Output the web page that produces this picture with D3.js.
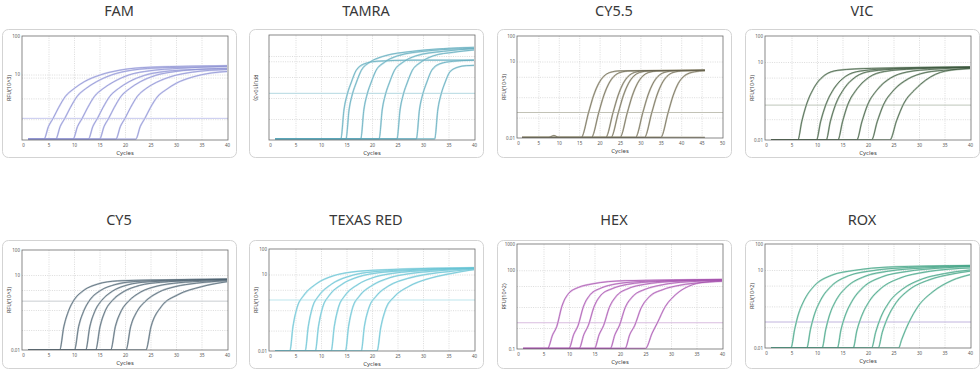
<!DOCTYPE html>
<html>
<head>
<meta charset="utf-8">
<script src="https://cdn.jsdelivr.net/npm/d3@7"></script>
<style>
  body { margin: 0; background: #fff; }
  svg text { font-family: "Noto Sans", "DejaVu Sans", sans-serif; }
</style>
</head>
<body>
<svg id="chart" width="980" height="370"></svg>
<script>
// panels, reading order
var panelNames = ["FAM", "TAMRA", "CY5.5", "VIC", "CY5", "TEXAS RED", "HEX", "ROX"];
var yTitles = ["RFU(10^3)", "RFU(10^3)", "RFU(10^3)", "RFU(10^3)", "RFU(10^3)", "RFU(10^3)", "RFU(10^2)", "RFU(10^2)"];
var xMax = [40, 40, 50, 40, 40, 40, 40, 40];
var yDomains = [[0.2, 100], [0.01, 100], [0.01, 100], [0.01, 100], [0.01, 100], [0.01, 100], [0.1, 1000], [0.01, 100]];
var yTicks = [[100, 10], [100, 10, 0.01], [100, 10, 0.01], [100, 10, 0.01], [100, 10, 0.01], [100, 10, 0.01], [1000, 100, 0.1], [100, 10, 0.01]];
var showYLabels = [true, false, true, true, true, true, true, true];
var thresholds = [0.73, 0.6, 0.1, 0.22, 0.9, 1.0, 1.0, 0.1];

// amplification curves, [cycle, RFU]
var famCurves = [
  [[1,.21],[4.1,.21],[5,.45],[5.9,.73],[7,1.4],[8.3,2.7],[10,4.3],[12,6.5],[15.2,9.8],[19,13],[25,15.5],[40,17]],
  [[1,.21],[6.4,.21],[7.3,.45],[8.2,.73],[9.3,1.4],[10.6,2.7],[12.3,4.3],[14.4,6.5],[17.4,9.8],[21.4,13],[27.4,15],[40,16]],
  [[1,.21],[9.8,.21],[10.7,.45],[11.6,.73],[12.7,1.4],[14,2.7],[15.7,4.3],[17.8,6.5],[20.8,9.8],[24.8,12.5],[30.8,14.5],[40,16.5]],
  [[1,.21],[12.8,.21],[13.7,.45],[14.6,.73],[15.7,1.4],[17,2.7],[18.7,4.3],[20.8,6.5],[23.8,9.5],[27.8,12],[33.8,13.5],[40,14]],
  [[1,.21],[15,.21],[15.9,.45],[16.8,.73],[17.9,1.4],[19.2,2.7],[20.9,4.3],[23,6.5],[26,9.5],[30,12],[36,14],[40,14.5]],
  [[1,.21],[18.2,.21],[19.1,.45],[20,.73],[21.1,1.4],[22.4,2.7],[24.1,4.3],[26.2,6.3],[29.2,9],[33.2,11.5],[40,13.5]],
  [[1,.21],[22.1,.21],[23,.45],[23.9,.73],[25,1.4],[26.3,2.6],[28,4],[30.1,6],[33.1,8.5],[37,11],[40,12]]
];
var tamraCurves = [
  [[1,.011],[13.9,.011],[14.5,.14],[15.2,.6],[15.9,1.5],[16.9,4.5],[18.5,8],[21,10],[28,11],[40,11]],
  [[1,.011],[14.9,.011],[15.5,.14],[16.2,.6],[16.9,1.5],[17.9,4.5],[19.5,9],[22,15],[28,24],[40,34]],
  [[1,.011],[17.8,.011],[18.4,.14],[19.1,.6],[19.8,1.5],[20.8,4.5],[22.4,9],[25,16],[31,25],[40,31]],
  [[1,.011],[21.4,.011],[22,.14],[22.7,.6],[23.4,1.5],[24.4,4.5],[26,9],[28.6,16],[34,24],[40,30]],
  [[1,.011],[24.9,.011],[25.5,.14],[26.2,.6],[26.9,1.5],[27.9,4.5],[29.5,9],[32,16],[36,22],[40,27]],
  [[1,.011],[28.7,.011],[29.3,.14],[30,.6],[30.7,1.5],[31.7,4.5],[33.3,8],[36,10],[40,11]],
  [[1,.011],[32.3,.011],[32.9,.14],[33.6,.6],[34.3,1.5],[35.3,4],[36.9,6],[38.5,6.8],[40,7]]
];
var cy55Curves = [
  [[1,.0105],[7.5,.0105],[8.8,.0125],[10,.0106],[45.8,.0105]],
  [[1,.0105],[15.5,.0105],[17.3,.1],[18.5,.45],[19.8,1.4],[21,2.6],[22.5,3.7],[25,4.3],[45.8,4.5]],
  [[1,.0105],[18,.0105],[19.8,.1],[21,.45],[22.3,1.4],[23.5,2.6],[25,3.7],[27.5,4.3],[45.8,4.5]],
  [[1,.0105],[21.5,.0105],[23.3,.1],[24.5,.45],[25.8,1.4],[27,2.6],[28.5,3.7],[31,4.3],[45.8,4.5]],
  [[1,.0105],[22.8,.0105],[24.6,.1],[25.8,.45],[27.1,1.4],[28.3,2.6],[29.8,3.7],[32.3,4.3],[45.8,4.5]],
  [[1,.0105],[25,.0105],[26.8,.1],[28,.45],[29.3,1.4],[30.5,2.6],[32,3.7],[34.5,4.3],[45.8,4.5]],
  [[1,.0105],[28.8,.0105],[30.6,.1],[31.8,.45],[33.1,1.4],[34.3,2.6],[35.8,3.7],[38.3,4.3],[45.8,4.5]],
  [[1,.0105],[31,.0105],[32.8,.1],[34,.45],[35.3,1.4],[36.5,2.6],[38,3.7],[40.5,4.3],[45.8,4.5]],
  [[1,.0105],[35,.0105],[36.8,.1],[38,.45],[39.3,1.4],[40.5,2.5],[42,3.5],[44.5,4.2],[45.8,4.4]]
];
var vicCurves = [
  [[1,.01],[6.25,.01],[7,.05],[7.9,.22],[9.5,1.1],[11.5,3.1],[14.1,4.8],[20.7,5.7],[40,6.5]],
  [[1,.01],[9.9,.01],[10.7,.05],[11.7,.22],[13.4,1],[15.6,2.8],[18.5,4.5],[25,5.6],[40,6.4]],
  [[1,.01],[11.8,.01],[12.6,.05],[13.6,.22],[15.4,1],[17.6,2.7],[20.5,4.4],[27,5.5],[40,6.3]],
  [[1,.01],[14.1,.01],[15,.05],[16,.22],[17.9,.95],[20.2,2.6],[23.2,4.3],[29,5.4],[40,6.2]],
  [[1,.01],[17.8,.01],[18.8,.05],[19.9,.22],[21.9,.9],[24.4,2.4],[27.6,4.1],[33,5.3],[40,6.1]],
  [[1,.01],[20.7,.01],[21.8,.05],[23,.22],[25.1,.85],[27.8,2.2],[31.2,3.9],[36,5],[40,5.8]],
  [[1,.01],[24.3,.01],[25.6,.055],[27,.25],[29.3,.9],[31.3,2],[35.2,4.5],[40,5.6]]
];
var cy5Curves = [
  [[1,.01],[7.2,.01],[8,.085],[9,.4],[10,1],[12,2.5],[14.6,4.3],[18.5,5.8],[25,6.3],[40,6.9]],
  [[1,.01],[10.1,.01],[10.9,.085],[12,.4],[13.1,1],[15.2,2.4],[18,4.1],[22,5.5],[28,6.1],[40,6.8]],
  [[1,.01],[12.3,.01],[13.1,.085],[14.2,.4],[15.4,.95],[17.6,2.3],[20.5,4],[24.5,5.3],[31,6],[40,6.7]],
  [[1,.01],[14.25,.01],[15.1,.085],[16.2,.4],[17.5,.95],[19.8,2.2],[22.8,3.8],[27,5.1],[33,5.9],[40,6.6]],
  [[1,.01],[17.2,.01],[18.1,.085],[19.3,.38],[20.7,.9],[23.1,2.1],[26.3,3.6],[30.5,4.9],[36,5.7],[40,6.3]],
  [[1,.01],[20.2,.01],[21.1,.085],[22.4,.36],[23.9,.85],[26.5,2],[29.8,3.4],[34,4.7],[40,5.9]],
  [[1,.01],[24.1,.01],[25.1,.085],[27.1,.54],[30.3,1.6],[35,3.4],[40,5.4]]
];
var texasCurves = [
  [[1,.01],[3.9,.01],[4.5,.09],[5.3,.5],[6.6,1.5],[9,4.2],[12.5,9],[16,12.5],[23,15.5],[40,18.5]],
  [[1,.01],[6.9,.01],[7.5,.09],[8.3,.5],[9.6,1.5],[12,4.1],[15.5,8.5],[19,12],[26,15],[40,18]],
  [[1,.01],[8.9,.01],[9.5,.09],[10.3,.5],[11.6,1.5],[14,4],[17.5,8.3],[21,11.5],[28,14.5],[40,18]],
  [[1,.01],[12,.01],[12.6,.09],[13.4,.5],[14.7,1.5],[17.1,3.9],[20.6,8],[24,11],[31,14.5],[40,17.5]],
  [[1,.01],[14.8,.01],[15.4,.09],[16.2,.5],[17.5,1.4],[20,3.7],[23.5,7.5],[27,10.5],[33,14],[40,17]],
  [[1,.01],[17.9,.01],[18.5,.09],[19.4,.5],[20.8,1.4],[23.3,3.6],[27,7],[30.5,10],[35,13],[40,16.5]],
  [[1,.01],[21,.01],[21.7,.08],[22.7,.45],[24.3,1.3],[27.2,3.4],[31,6.8],[34.5,10],[37.5,13],[40,15.5]]
];
var hexCurves = [
  [[1,.105],[5.8,.105],[6.8,.35],[7.6,.72],[8.6,4.2],[9.9,13],[11.8,22],[14.5,30],[21,40],[40,45]],
  [[1,.105],[10,.105],[10.9,.35],[11.8,.8],[12.8,4],[14.2,12],[16.3,21],[19.2,30],[25,38],[40,44]],
  [[1,.105],[12,.105],[12.9,.35],[13.8,.8],[14.9,4],[16.3,11.5],[18.5,20],[21.5,29],[27,37],[40,43]],
  [[1,.105],[15,.105],[15.9,.35],[16.8,.8],[17.9,3.8],[19.4,11],[21.6,20],[24.8,29],[30,37],[40,42]],
  [[1,.105],[18.1,.105],[19,.35],[19.9,.8],[21,3.7],[22.6,10.5],[25,19],[28.3,28],[33,36],[40,40]],
  [[1,.105],[21,.105],[21.9,.35],[22.9,.8],[24.1,3.5],[25.8,10],[28.3,18],[31.8,27],[36,34],[40,38]],
  [[1,.105],[25,.105],[26.3,.4],[27.3,.97],[28.9,4.2],[30.9,11.7],[34.2,28],[37.5,37],[40,40]]
];
var roxCurves = [
  [[1,.01],[4.9,.01],[5.6,.05],[6.25,.17],[7.6,.76],[9.5,2.5],[12.8,6.2],[17.4,9.7],[24,13],[40,15]],
  [[1,.01],[8,.01],[8.7,.05],[9.4,.17],[10.8,.75],[12.8,2.4],[16.2,6],[21,9.5],[28,12.5],[40,14.5]],
  [[1,.01],[11,.01],[11.7,.05],[12.4,.17],[13.8,.72],[15.9,2.3],[19.4,5.7],[24,9],[31,12],[40,14]],
  [[1,.01],[14,.01],[14.7,.05],[15.5,.17],[17,.7],[19.1,2.2],[22.7,5.4],[27.5,8.7],[34,11.8],[40,13.5]],
  [[1,.01],[17.1,.01],[17.8,.045],[18.7,.16],[20.3,.65],[22.6,2],[26.4,5],[31,8.2],[36,10.8],[40,12]],
  [[1,.01],[20.7,.01],[21.5,.04],[22.5,.15],[24.2,.6],[26.7,1.8],[30.6,4.5],[35,7.3],[40,10]],
  [[1,.01],[22,.01],[22.8,.04],[23.8,.14],[25.5,.55],[28,1.7],[32,4.2],[36.5,7],[40,9]],
  [[1,.01],[26,.01],[26.6,.021],[28,.094],[29.9,.42],[32.6,1.4],[36.5,4],[40,6.6]]
];
var allCurves = [famCurves, tamraCurves, cy55Curves, vicCurves, cy5Curves, texasCurves, hexCurves, roxCurves];

// look
var styles = [
  {line: "#8a8ed0", halo: "#d3d5f2", thr: "#c6c8ee"},
  {line: "#5aa6b9", halo: "#bfe0e7", thr: "#b3d8e1"},
  {line: "#67634f", halo: "#cdcabc", thr: "#c2c2b6"},
  {line: "#3a553b", halo: "#b7c6b7", thr: "#bec6ba"},
  {line: "#4a5f6d", halo: "#bcc6cc", thr: "#c9cdd1"},
  {line: "#62c1d3", halo: "#c0e6ed", thr: "#bde6ed"},
  {line: "#a24eaa", halo: "#e2bfe5", thr: "#d9bddf"},
  {line: "#3a9e80", halo: "#b8dfd1", thr: "#c1b4de"}
];
var colX = [2, 249, 497, 745];
var boxTop = [29, 240], boxH = 128, boxW = 234;
var titleY = [16, 225];
var frameTop = [36, 35, 36, 36, 250, 249, 244, 244];
var frameBottom = [140, 140, 138, 140, 350, 351, 349, 348];
var titleRot = [-90, 90, -90, -90, -90, -90, -90, -90];

var svg = d3.select("#chart");

panelNames.forEach(function (name, i) {
  var col = i % 4, row = Math.floor(i / 4);
  var x0 = colX[col];
  var st = styles[i];
  var g = svg.append("g");

  g.append("rect")
    .attr("x", x0 + 0.5).attr("y", boxTop[row] + 0.5)
    .attr("width", boxW).attr("height", boxH)
    .attr("rx", 6)
    .attr("fill", "#fff").attr("stroke", "#d3d3d3");

  g.append("text")
    .attr("x", x0 + boxW / 2).attr("y", titleY[row])
    .attr("text-anchor", "middle")
    .attr("font-size", 14.5).attr("fill", "#383838")
    .text(name);

  var left = x0 + 20, right = x0 + 226, top = frameTop[i], bottom = frameBottom[i];
  var x = d3.scaleLinear().domain([0, xMax[i]]).range([left + 1, right - 1]);
  var y = d3.scaleLog().domain(yDomains[i]).range([bottom, top]);
  var frac = d3.scaleLinear().domain([0, 1]).range([top, bottom]);
  var xt = d3.range(0, xMax[i] + 1, 5);

  // dotted grid
  var gx = g.append("g").attr("transform", "translate(0," + bottom + ")")
    .call(d3.axisBottom(x).tickValues(xt.slice(1, -1)).tickSize(-(bottom - top)).tickFormat(""));
  var gy = g.append("g").attr("transform", "translate(" + left + ",0)")
    .call(d3.axisLeft(y).tickValues(yTicks[i].slice(1, -1).concat(i === 0 ? [10] : [])).tickSize(-(right - left)).tickFormat(""));
  var gf = g.append("g").attr("transform", "translate(" + left + ",0)")
    .call(d3.axisLeft(frac).tickValues(i === 1 ? [0.2, 0.4, 0.6, 0.8] : [0.4, 0.6, 0.8]).tickSize(-(right - left)).tickFormat(""));
  [gx, gy, gf].forEach(function (a) {
    a.select(".domain").remove();
    a.selectAll("line").attr("stroke", "#cdcdcd").attr("stroke-width", 0.7).attr("stroke-dasharray", "1,1.3");
  });

  // threshold
  g.append("line")
    .attr("x1", left).attr("x2", right)
    .attr("y1", y(thresholds[i])).attr("y2", y(thresholds[i]))
    .attr("stroke", st.thr).attr("stroke-width", 1);

  // curves
  var clipId = "clip" + i;
  g.append("clipPath").attr("id", clipId).append("rect")
    .attr("x", left).attr("y", top).attr("width", right - left).attr("height", bottom - top);
  var line = d3.line()
    .x(function (d) { return x(d[0]); })
    .y(function (d) { return y(d[1]); })
    .curve(d3.curveMonotoneX);
  var cg = g.append("g").attr("clip-path", "url(#" + clipId + ")");
  cg.selectAll("path.halo").data(allCurves[i]).join("path")
    .attr("class", "halo")
    .attr("d", line).attr("fill", "none")
    .attr("stroke", st.halo).attr("stroke-width", 1.8);
  cg.selectAll("path.core").data(allCurves[i]).join("path")
    .attr("class", "core")
    .attr("d", line).attr("fill", "none")
    .attr("stroke", st.line).attr("stroke-width", 0.7);

  // frame
  g.append("rect")
    .attr("x", left).attr("y", top)
    .attr("width", right - left).attr("height", bottom - top)
    .attr("fill", "none").attr("stroke", "#6b6b6b").attr("stroke-width", 0.8);

  // x labels
  var ax = g.append("g").attr("transform", "translate(0," + bottom + ")")
    .call(d3.axisBottom(x).tickValues(xt).tickSize(0).tickPadding(4));
  ax.select(".domain").remove();
  ax.selectAll("text").attr("font-size", 4.5).attr("fill", "#555");

  // y labels
  if (showYLabels[i]) {
    var ay = g.append("g").attr("transform", "translate(" + left + ",0)")
      .call(d3.axisLeft(y).tickValues(yTicks[i]).tickSize(0).tickPadding(2).tickFormat(d3.format("~g")));
    ay.select(".domain").remove();
    ay.selectAll("text").attr("font-size", 4.5).attr("fill", "#555");
  }

  g.append("text")
    .attr("x", (left + right) / 2).attr("y", bottom + 14.5)
    .attr("text-anchor", "middle")
    .attr("font-size", 6).attr("fill", "#444")
    .text("Cycles");

  var ty = (top + bottom) / 2;
  g.append("text")
    .attr("transform", "translate(" + (x0 + 7) + "," + ty + ") rotate(" + titleRot[i] + ")")
    .attr("text-anchor", "middle").attr("dy", "0.35em")
    .attr("font-size", 5.5).attr("fill", "#444")
    .text(yTitles[i]);
});
</script>
</body>
</html>
